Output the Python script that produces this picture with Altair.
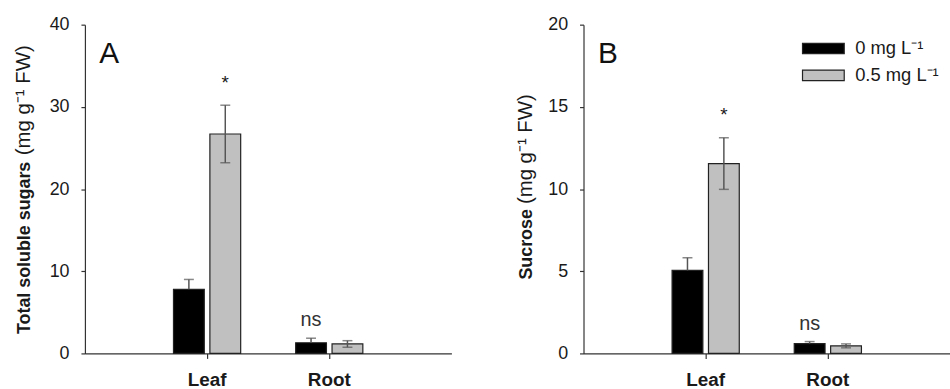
import altair as alt
import pandas as pd

# ---- data ----
tissues = ["Leaf", "Leaf", "Root", "Root"]
treatments = ["0 mg L⁻¹", "0.5 mg L⁻¹", "0 mg L⁻¹", "0.5 mg L⁻¹"]
treat_domain = ["0 mg L⁻¹", "0.5 mg L⁻¹"]
tss_mean = [7.8, 26.7, 1.3, 1.15]
tss_se = [1.2, 3.5, 0.55, 0.4]
suc_mean = [5.05, 11.55, 0.6, 0.46]
suc_se = [0.77, 1.57, 0.12, 0.12]
sig_marks = ["", "*", "ns", ""]

FONT = "Liberation Sans"
W, H = 369, 331
AXIS_COL = "#333333"
TXT_COL = "#1a1a1a"
ERR_COL = "#555555"
TITLE_BOLD_SIZE = 18
TITLE_NORM_SIZE = 20.5


def panel(mean, se, ymax, ystep, bold_title, bold_len_em, norm_title, letter,
          bold_anchor, title_x, show_legend):
    df = pd.DataFrame({"tissue": tissues, "treatment": treatments,
                       "mean": mean, "se": se, "sig": sig_marks})
    base = alt.Chart(df).transform_calculate(
        lo="datum.mean - datum.se", hi="datum.mean + datum.se")

    x = alt.X("tissue:N",
              scale=alt.Scale(domain=["Leaf", "Root"], paddingInner=0.45, paddingOuter=0.725),
              axis=alt.Axis(title=None, labelAngle=0, labelFont=FONT, labelFontSize=19,
                            labelFontWeight="bold", labelColor=TXT_COL, tickSize=5,
                            tickColor=AXIS_COL, domainColor=AXIS_COL, labelPadding=12,
                            tickWidth=1.2, domainWidth=1.2))
    xo = alt.XOffset("treatment:N",
                     scale=alt.Scale(domain=treat_domain, paddingInner=0.154, paddingOuter=0))
    yscale = alt.Scale(domain=[0, ymax], nice=False)
    yaxis = alt.Axis(title=None, values=list(range(0, ymax + 1, ystep)), grid=False,
                     labelFont=FONT, labelFontSize=18, labelColor=TXT_COL, tickSize=4,
                     tickColor=AXIS_COL, domainColor=AXIS_COL, labelPadding=12,
                     tickWidth=1.2, domainWidth=1.2)

    if show_legend:
        legend = alt.Legend(orient="none", legendX=230, legendY=12.5, title=None,
                            symbolType="M-2,-0.5H2V0.5H-2Z", symbolSize=441,
                            labelFont=FONT, labelFontSize=18.5, labelColor=TXT_COL,
                            labelOffset=20.5, rowPadding=6, padding=0,
                            symbolStrokeColor="#222222", symbolStrokeWidth=1.2)
    else:
        legend = None

    bars = base.mark_bar(stroke="#222222", strokeWidth=1.2).encode(
        x=x, xOffset=xo,
        y=alt.Y("mean:Q", scale=yscale, axis=yaxis),
        color=alt.Color("treatment:N",
                        scale=alt.Scale(domain=treat_domain, range=["#000000", "#c0c0c0"]),
                        legend=legend),
    )
    # upper whisker for every bar
    err_up = base.mark_rule(color=ERR_COL, strokeWidth=1.5).encode(
        x=x, xOffset=xo, y="mean:Q", y2="hi:Q")
    cap_hi = base.mark_tick(color=ERR_COL, thickness=1.5, size=10, orient="horizontal").encode(
        x=x, xOffset=xo, y="hi:Q")
    # lower whisker only visible on the grey bars (hidden inside the black ones)
    light = base.transform_filter(alt.datum.treatment == treat_domain[1])
    err_lo = light.mark_rule(color=ERR_COL, strokeWidth=1.5).encode(
        x=x, xOffset=xo, y="lo:Q", y2="mean:Q")
    cap_lo = light.mark_tick(color=ERR_COL, thickness=1.5, size=10, orient="horizontal").encode(
        x=x, xOffset=xo, y="lo:Q")
    star = base.transform_filter("datum.sig == '*'").mark_text(
        font=FONT, fontSize=19, color=TXT_COL, baseline="alphabetic", dy=-16.5).encode(
        x=x, xOffset=xo, y="hi:Q", text="sig:N")
    ns = base.transform_filter("datum.sig == 'ns'").mark_text(
        font=FONT, fontSize=20, color="#333333", baseline="alphabetic", dy=-12).encode(
        x=x, xOffset=xo, y="hi:Q", text="sig:N")

    one = alt.Data(values=[{}])
    let = alt.Chart(one).mark_text(text=letter, font=FONT, fontSize=30, align="left",
                                   baseline="alphabetic", color="#111111").encode(
        x=alt.value(14.5), y=alt.value(39))
    t_bold = alt.Chart(one).mark_text(text=bold_title, font=FONT, fontSize=TITLE_BOLD_SIZE,
                                      fontWeight="bold", angle=270, align="left",
                                      baseline="alphabetic", color=TXT_COL).encode(
        x=alt.value(title_x), y=alt.value(bold_anchor))
    norm_anchor = bold_anchor - bold_len_em * TITLE_BOLD_SIZE - 5
    t_norm = alt.Chart(one).mark_text(text=norm_title, font=FONT, fontSize=TITLE_NORM_SIZE,
                                      angle=270, align="left", baseline="alphabetic",
                                      color=TXT_COL).encode(
        x=alt.value(title_x), y=alt.value(norm_anchor))

    return alt.layer(bars, err_up, cap_hi, err_lo, cap_lo, star, ns, let, t_bold, t_norm).properties(
        width=W, height=H)


pA = panel(tss_mean, tss_se, 40, 10, "Total soluble sugars", 9.725, "(mg g⁻¹ FW)", "A",
           311.5, -55, False)
pB = panel(suc_mean, suc_se, 20, 5, "Sucrose", 3.946, "(mg g⁻¹ FW)", "B",
           256.7, -52, True)

chart = alt.hconcat(pA, pB, spacing=65).resolve_scale(
    x="independent", y="independent", color="independent"
).resolve_legend(color="independent").properties(
    padding={"left": 13.5, "top": 14.5, "right": 0, "bottom": 0}
).configure_view(stroke=None)

chart.save("out.html", embed_options={"renderer": "svg", "actions": False})
